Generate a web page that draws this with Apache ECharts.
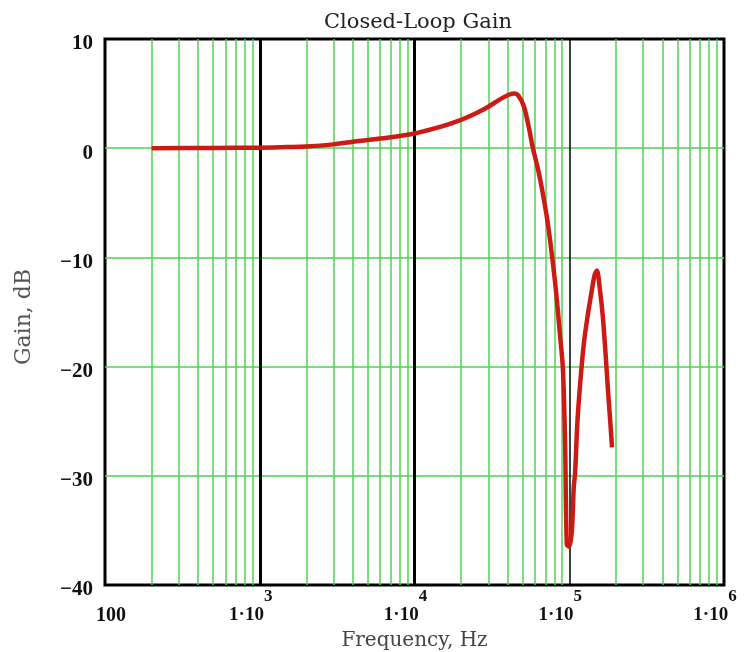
<!DOCTYPE html>
<html>
<head>
<meta charset="utf-8">
<script src="https://cdn.jsdelivr.net/npm/echarts@6/dist/echarts.min.js"></script>
<style>
  html, body { margin: 0; padding: 0; background: #fff; }
  #chart { width: 749px; height: 652px; }
</style>
</head>
<body>
<div id="chart"></div>
<script>
// Closed-loop gain response, frequency in Hz, gain in dB
const freqHz = [200, 500, 1000, 1500, 2000, 3000, 4000, 5000, 7000, 10000, 15000, 20000, 25000, 30000,
  35000, 40000, 44000, 47000, 51000, 55000, 58000, 63000, 67000, 72000, 77000, 82000, 87000, 91000,
  94000, 96500, 100000, 104000, 107000, 109000, 113000, 117600, 124000, 131000, 140000, 146000,
  151000, 158000, 165000, 172000, 178000, 184000, 189000];
const gainDb = [0, 0.02, 0.05, 0.1, 0.15, 0.35, 0.6, 0.75, 1.0, 1.35, 2.0, 2.6, 3.2, 3.8,
  4.4, 4.85, 5.0, 4.8, 3.8, 1.8, 0.1, -2.0, -3.9, -6.5, -9.6, -13.0, -17.0, -20.2,
  -27.0, -36.3, -36.5, -35.0, -31.0, -29.8, -25.0, -21.6, -18.0, -15.5, -13.0, -11.6,
  -11.2, -13.0, -15.5, -19.0, -22.2, -25.0, -27.4];

// Axis ranges and grid lines
const xRange = [100, 1e6];
const yRange = [-40, 10];
const yStep = 10;
const gainGridDb = [0, -10, -20, -30];
const decadeHz = [1000, 10000, 100000];
const decadeStarts = [100, 1000, 10000, 100000];
const minorMultipliers = [2, 3, 4, 5, 6, 7, 8, 9];

const minorGridHz = [];
decadeStarts.forEach(d => minorMultipliers.forEach(m => minorGridHz.push(d * m)));

const curve = freqHz.map((f, i) => [f, gainDb[i]]);

const serif = '"Liberation Serif", "DejaVu Serif", serif';
const wideSerif = '"DejaVu Serif", serif';
const gridGreen = '#4fd24f';
const chart = echarts.init(document.getElementById('chart'));

chart.setOption({
  animation: false,
  backgroundColor: '#fff',
  title: {
    text: 'Closed-Loop Gain',
    left: 413, top: 7, textAlign: 'center',
    textStyle: { fontFamily: wideSerif, fontSize: 21, fontWeight: 'normal', color: '#222' }
  },
  graphic: [{
    // vertical axis title
    type: 'text', x: 24, y: 317, rotation: Math.PI / 2, silent: true,
    style: {
      text: 'Gain, dB', align: 'center', verticalAlign: 'middle',
      fontFamily: wideSerif, fontSize: 22, fill: '#555'
    }
  }],
  grid: {
    left: 105, right: 25, top: 39, bottom: 67,
    containLabel: false, outerBoundsMode: 'none',
    show: true, borderColor: '#000', borderWidth: 3, backgroundColor: 'transparent'
  },
  xAxis: {
    type: 'log', logBase: 10, min: xRange[0], max: xRange[1],
    name: 'Frequency, Hz', nameLocation: 'middle', nameGap: 43,
    nameTextStyle: { fontFamily: wideSerif, fontSize: 20, color: '#444' },
    axisLine: { show: false }, axisTick: { show: false }, splitLine: { show: false },
    axisLabel: {
      margin: 3,
      formatter: function (v) {
        const e = Math.round(Math.log10(v));
        if (e === 2) return '{h|100}';
        return '{n|1\u00b710}{s|' + e + '}';
      },
      rich: {
        h: { fontFamily: serif, fontSize: 20, fontWeight: 'bold', color: '#111',
             verticalAlign: 'top', padding: [18, 0, 0, 12] },
        n: { fontFamily: serif, fontSize: 19, fontWeight: 'bold', color: '#111',
             verticalAlign: 'top', padding: [18, 0, 0, 0] },
        s: { fontFamily: serif, fontSize: 17, fontWeight: 'bold', color: '#111',
             verticalAlign: 'top', padding: [0, 18, 0, 0] }
      }
    }
  },
  yAxis: {
    type: 'value', min: yRange[0], max: yRange[1], interval: yStep,
    axisLine: { show: false }, axisTick: { show: false }, splitLine: { show: false },
    axisLabel: {
      margin: 12,
      formatter: v => '{v|' + (v < 0 ? '\u2212' + Math.abs(v) : String(v)) + '}',
      rich: {
        v: { fontFamily: serif, fontSize: 21, fontWeight: 'bold', color: '#111',
             padding: [10, 0, 0, 0] }
      }
    }
  },
  series: [
    {
      // green grid: horizontal gain lines and 2..9 lines of each decade
      type: 'line', data: [], z: 1, silent: true,
      markLine: {
        silent: true, symbol: 'none', label: { show: false },
        lineStyle: { type: 'solid', color: gridGreen, width: 1.5 },
        data: minorGridHz.map(f => ({ xAxis: f })).concat(gainGridDb.map(g => ({ yAxis: g })))
      }
    },
    {
      // decade lines
      type: 'line', data: [], z: 2, silent: true,
      markLine: {
        silent: true, symbol: 'none', label: { show: false },
        data: decadeHz.map(f => ({
          xAxis: f,
          lineStyle: { type: 'solid', color: '#000', width: f === 100000 ? 1.5 : 3 }
        }))
      }
    },
    {
      type: 'line', data: curve, z: 5, showSymbol: false, smooth: 0.3,
      lineStyle: { color: '#cc1a14', width: 4.5 }
    }
  ]
});
</script>
</body>
</html>
